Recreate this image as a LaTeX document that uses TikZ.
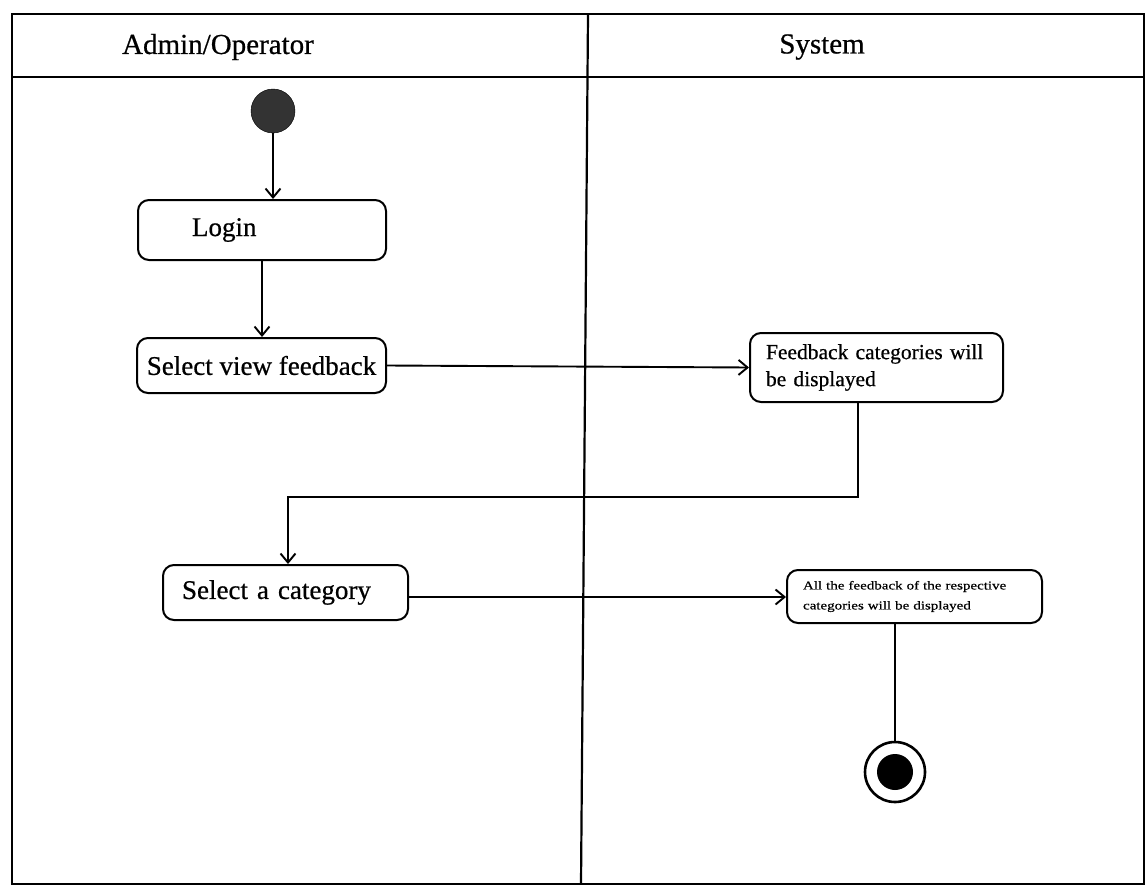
\documentclass[tikz,border=0pt]{standalone}
\usepackage{fontspec}
\setmainfont{Liberation Serif}[FakeBold=0.6]
\newfontfamily\condensed[FakeStretch=1.25,FakeBold=0.6]{Liberation Serif}
\usetikzlibrary{arrows.meta,calc}
\begin{document}
\begin{tikzpicture}[x=1pt,y=-1pt,
  act/.style={draw,line width=2pt,rounded corners=11pt,inner ysep=0pt,align=left},
  big/.style={font=\fontsize{27}{30}\selectfont},
  flow/.style={line width=1.9pt,-{Straight Barb[length=9pt,width=15pt,line width=1.9pt]}},
  plain/.style={line width=1.9pt},
  frame/.style={line width=2.2pt}]
\useasboundingbox (0,0) rectangle (1147,888);
% swimlanes
\draw[frame] (12,14) rectangle (1144,884);
\draw[frame] (12,77) -- (1144,77);
\draw[frame] (588,14) -- (581,884);
\node[font=\fontsize{29}{32}\selectfont] (h1) at (218,47) {Admin/Operator};
\node[font=\fontsize{29}{32}\selectfont] (h2) at (822,47) {System};
% start
\node[circle,fill=black!80,draw=black,minimum size=44pt,inner sep=0pt] (start) at (273,111) {};
% activities
\node[act,big,minimum height=60pt,inner xsep=54pt,text width=140pt] (login) at (262,230) {Login};
\node[act,big,minimum height=55pt,minimum width=249pt,inner xsep=0pt,align=center] (svf) at (261.5,365.5) {Select view feedback};
\node[act,minimum height=69pt,font=\fontsize{21.5}{27}\selectfont,inner xsep=16pt,text width=221pt] (fcd) at (876.5,367.5) {Feedback categories will\\be displayed};
\node[act,big,minimum height=55pt,inner xsep=19pt,text width=207pt] (sac) at (285.5,592.5) {Select a category};
\node[act,minimum height=53pt,font=\condensed\fontsize{12}{20}\selectfont,inner xsep=16pt,text width=223pt] (all) at (914.5,596.5) {All the feedback of the respective\\categories will be displayed};
% end
\node[circle,draw=black,line width=2.6pt,minimum size=60pt,inner sep=0pt] (end) at (895,772) {};
\node[circle,fill=black,minimum size=36pt,inner sep=0pt] (endin) at (895,772) {};
% flows
\draw[flow] (start) -- (start |- login.north);
\draw[flow] (login.south) -- (login.south |- svf.north);
\draw[flow] (svf.east) -- (fcd.west);
\coordinate (b1) at (858,497);
\coordinate (b2) at (288,497);
\draw[flow] (fcd.south -| b1) -- (b1) -- (b2) -- (b2 |- sac.north);
\draw[flow] (sac.east |- 0,597) -- (all.west |- 0,597);
\draw[plain] (all.south -| end.north) -- (end.north);
\end{tikzpicture}
\end{document}
